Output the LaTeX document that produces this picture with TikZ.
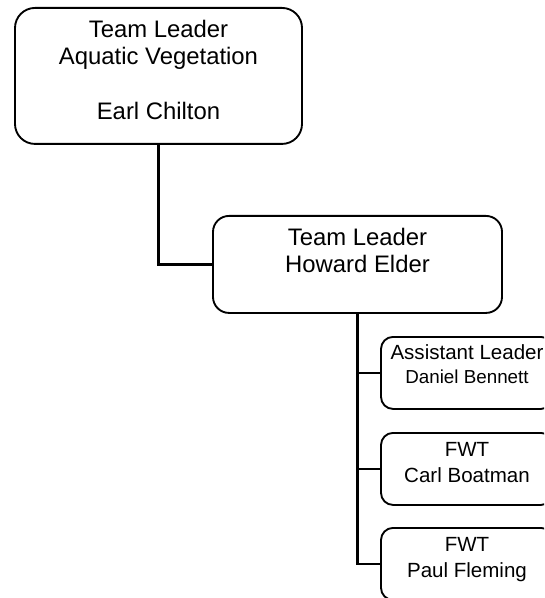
\documentclass[tikz,border=0pt]{standalone}
\usepackage{fontspec}
\setmainfont{Liberation Sans}
\tikzstyle{box}=[draw, line width=1.4pt, align=center, inner sep=0pt, anchor=north]
\tikzstyle{leader}=[box, font=\fontsize{17.9}{20.6}\selectfont]
\tikzstyle{member}=[box, rounded corners=9pt, minimum width=129pt, text height=37.5pt, text depth=16.5pt, font=\fontsize{15.4}{19.5}\selectfont]
\tikzstyle{branch}=[draw, line width=1.8pt]

\begin{document}
\begin{tikzpicture}[x=0.75pt, y=-0.75pt]
          \useasboundingbox (0, 0) rectangle (544, 598);
          \clip (0, 0) rectangle (544, 598);
          \node[leader, rounded corners=15pt, minimum width=215.25pt, text height=84pt, text depth=18pt]
            (chilton) at (158.5, 7)
            {Team Leader\\Aquatic Vegetation\\[20.6pt]Earl Chilton};
          \node[leader, rounded corners=12pt, minimum width=216.75pt, text height=42.75pt, text depth=30pt]
            (elder) at (357.5, 215)
            {Team Leader\\Howard Elder};
          \node[member, text height=35.25pt, text depth=18.75pt]
            (bennett) at (467, 336)
            {Assistant Leader\\[-1.5pt]{\fontsize{14.1}{16}\selectfont Daniel Bennett}};
          \node[member]
            (boatman) at (467, 432)
            {FWT\\Carl Boatman};
          \node[member]
            (fleming) at (467, 527)
            {FWT\\Paul Fleming};
          \path[branch] (chilton.south) |- (elder.west);
          \path[branch] (elder.south) |- (bennett.west);
          \path[branch] (elder.south) |- (boatman.west);
          \path[branch] (elder.south) |- (fleming.west);
        \end{tikzpicture}
\end{document}
